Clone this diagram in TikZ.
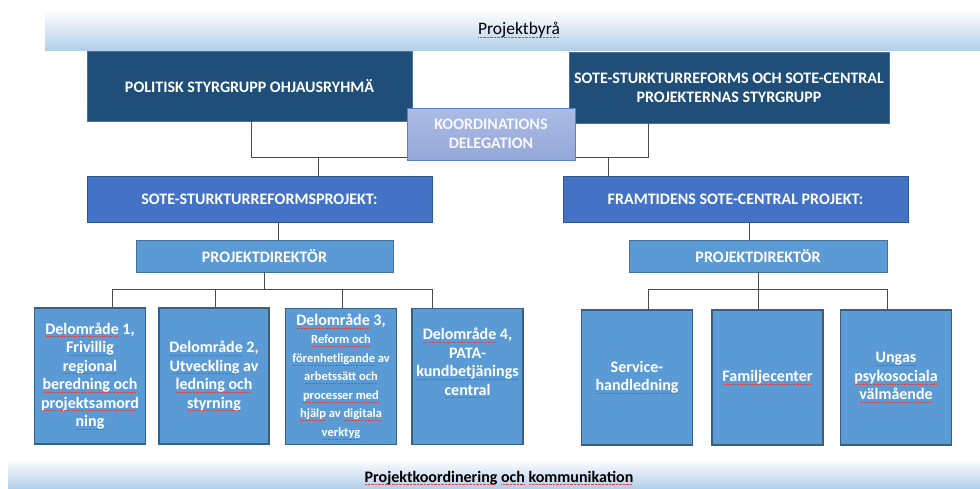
\documentclass[tikz,border=0pt]{standalone}
\usepackage{fontspec}
\setmainfont{Carlito}
\definecolor{darkbox}{HTML}{1F4E79}
\definecolor{midbox}{HTML}{4472C4}
\definecolor{lightbox}{HTML}{5B9BD5}
\definecolor{lightedge}{HTML}{41719C}
\definecolor{coordfill}{HTML}{9DB0E2}
\definecolor{coordedge}{HTML}{5B7FCF}
\definecolor{banner}{HTML}{B4CFEA}
\definecolor{conn}{HTML}{4A4A4A}
\definecolor{spellred}{HTML}{D84848}
\newcommand\smf{\fontsize{12.5}{15.2}\selectfont}
\newsavebox\sqbox
\newcommand\sq[1]{\sbox\sqbox{#1}\leavevmode\rlap{\usebox\sqbox}\raisebox{-2.8pt}{\textcolor{spellred}{\leaders\hbox to 1.4pt{\hss\rule{0.7pt}{0.55pt}\hss}\hskip\wd\sqbox}}}
\begin{document}
\begin{tikzpicture}[x=1pt,y=-1pt,
  base/.style={inner sep=0pt, align=center, text=white, font=\bfseries\fontsize{16}{19}\selectfont},
  darkstyle/.style={base, fill=darkbox, draw=darkbox!80!white, line width=0.6pt},
  midstyle/.style={base, fill=midbox, draw=darkbox!70!midbox, line width=0.8pt},
  pdstyle/.style={base, fill=lightbox, draw=lightedge, line width=0.8pt},
  subbox/.style={base, font=\bfseries\fontsize{16}{18.5}\selectfont, fill=lightbox, draw=lightedge!85!black, line width=1.2pt, minimum width=111pt, minimum height=136pt},
  coordstyle/.style={base, top color=coordfill!85!white, bottom color=coordfill!95!black, draw=coordedge, line width=0.8pt, text=white!92!coordfill},
  conline/.style={draw=conn, line width=0.8pt},
  bantext/.style={inner sep=0pt, text=black, font=\fontsize{17.5}{20}\selectfont}
]
\useasboundingbox (0,0) rectangle (980,488);
\fill[white] (0,0) rectangle (980,488);

% banners
\shade[top color=white, bottom color=banner] (45,10) rectangle (980,50);
\node[bantext] (byra) at (519,30) {\sq{Projektbyrå}};
\shade[top color=white, bottom color=banner] (8,459) rectangle (980,488);
\node[bantext, font=\bfseries\fontsize{16}{19}\selectfont] (komm) at (499,478) {\sq{Projektkoordinering} \sq{och} \sq{kommunikation}};

% top boxes
\node[darkstyle, minimum width=325pt, minimum height=70pt] (pol) at (249.5,86) {POLITISK STYRGRUPP OHJAUSRYHMÄ};
\node[darkstyle, minimum width=320pt, minimum height=71pt] (sty) at (729,87.5) {SOTE-STURKTURREFORMS OCH SOTE-CENTRAL\\PROJEKTERNAS STYRGRUPP};

% connectors top
\coordinate (busT) at (0,157);
\draw[conline] ([xshift=1.5pt]pol.south) -- ([xshift=1.5pt]pol.south |- busT) -- ([xshift=-81pt]sty.south |- busT) -- ([xshift=-81pt]sty.south);

% middle boxes
\node[midstyle, minimum width=345pt, minimum height=46pt] (sote) at (259.5,199) {SOTE-STURKTURREFORMSPROJEKT:};
\node[midstyle, minimum width=345pt, minimum height=46pt] (fram) at (735.5,199) {FRAMTIDENS SOTE-CENTRAL PROJEKT:};
\draw[conline] ([xshift=58.5pt]sote.north |- busT) -- ([xshift=58.5pt]sote.north);
\draw[conline] ([xshift=-127.5pt]fram.north |- busT) -- ([xshift=-127.5pt]fram.north);

\node[coordstyle, minimum width=168pt, minimum height=52pt] (koord) at (491,134) {KOORDINATIONS\\DELEGATION};

% project directors
\node[pdstyle, minimum width=257pt, minimum height=32pt] (pdl) at (264.5,256) {PROJEKTDIREKTÖR};
\node[pdstyle, minimum width=258pt, minimum height=32pt] (pdr) at (758,256) {PROJEKTDIREKTÖR};
\draw[conline] ([xshift=18.5pt]sote.south) -- ([xshift=13.5pt]pdl.north);
\draw[conline] ([xshift=13.5pt]fram.south) -- ([xshift=-9pt]pdr.north);

% sub boxes left
\node[subbox] (d1) at (90,376) {\sq{Delområde} 1,\\\sq{Frivillig}\\\sq{regional}\\\sq{beredning och}\\\sq{projektsamord}\\\sq{ning}};
\node[subbox, minimum width=110pt] (d2) at (214,376) {\sq{Delområde} 2,\\\sq{Utveckling} av\\\sq{ledning och}\\\sq{styrning}};
\node[subbox] (d3) at (341,376.5) {\sq{Delområde} 3,\\\smf \sq{Reform och}\\\smf \sq{förenhetligande} av\\\smf \sq{arbetssätt och}\\\smf \sq{processer med}\\\smf \sq{hjälp} av \sq{digitala}\\\smf \sq{verktyg}};
\node[subbox] (d4) at (467.5,376.5) {};
\node[base, font=\bfseries\fontsize{16}{18.5}\selectfont] (d4t) at (467.5,363) {\sq{Delområde} 4,\\PATA-\\\sq{kundbetjänings}\\\sq{central}};

% sub boxes right
\node[subbox, minimum height=135pt] (d5) at (637,377.5) {Service-\\\sq{handledning}};
\node[subbox, minimum height=135pt] (d6) at (767.5,377.5) {\sq{Familjecenter}};
\node[subbox, minimum height=135pt] (d7) at (896,377.5) {\sq{Ungas}\\\sq{psykosociala}\\\sq{välmående}};

% bus left
\coordinate (busL) at (0,289);
\draw[conline] (pdl.south) -- (pdl.south |- busL);
\draw[conline] ([xshift=22pt]d1.north) -- ([xshift=22pt]d1.north |- busL) -- ([xshift=-35.5pt]d4.north |- busL) -- ([xshift=-35.5pt]d4.north);
\draw[conline] ([xshift=1pt]d2.north |- busL) -- ([xshift=1pt]d2.north);
\draw[conline] ([xshift=1pt]d3.north |- busL) -- ([xshift=1pt]d3.north);

% bus right
\draw[conline] (pdr.south) -- (d6.north -| pdr.south);
\draw[conline] ([xshift=11pt]d5.north) -- ([xshift=11pt]d5.north |- busL) -- ([xshift=-9pt]d7.north |- busL) -- ([xshift=-9pt]d7.north);
\end{tikzpicture}
\end{document}
